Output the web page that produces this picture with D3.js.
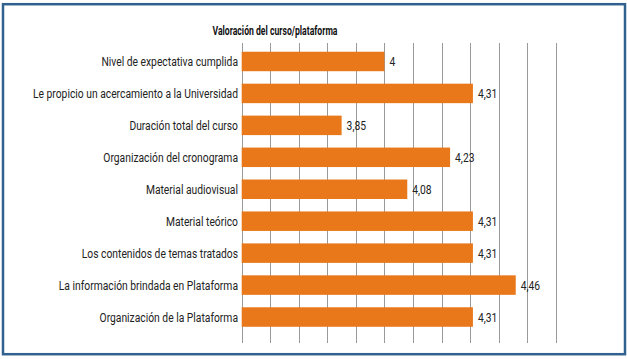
<!DOCTYPE html>
<html>
<head>
<meta charset="utf-8">
<script src="https://cdn.jsdelivr.net/npm/d3@7"></script>
<style>
  body { margin: 0; background: #fff; }
  svg text { font-family: Roboto, "Noto Sans", sans-serif; }
</style>
</head>
<body>
<div id="chart"></div>
<script>
// Categories (top to bottom) and their values
const categories = [
    "Nivel de expectativa cumplida",
    "Le propicio un acercamiento a la Universidad",
    "Duración total del curso",
    "Organización del cronograma",
    "Material audiovisual",
    "Material teórico",
    "Los contenidos de temas tratados",
    "La información brindada en Plataforma",
    "Organización de la Plataforma"
];
const values = [4, 4.31, 3.85, 4.23, 4.08, 4.31, 4.31, 4.46, 4.31];
const valueLabels = ["4", "4,31", "3,85", "4,23", "4,08", "4,31", "4,31", "4,46", "4,31"];
const gridTicks = [3.5, 3.6, 3.7, 3.8, 3.9, 4.0, 4.1, 4.2, 4.3, 4.4, 4.5, 4.6];

const width = 627, height = 359;

const svg = d3.select("#chart")
    .append("svg")
    .attr("width", width)
    .attr("height", height);

// condensed look: squeeze glyphs horizontally
function condense(sel, factor) {
    sel.each(function() {
        const w = this.getComputedTextLength();
        d3.select(this)
            .attr("textLength", w * factor)
            .attr("lengthAdjust", "spacingAndGlyphs");
    });
}

// frame
svg.append("rect")
    .attr("x", 3)
    .attr("y", 4.2)
    .attr("width", 622)
    .attr("height", 350)
    .attr("fill", "#fff")
    .attr("stroke", "#31618f")
    .attr("stroke-width", 2.5);

const x = d3.scaleLinear()
    .domain([3.5, 4.6])
    .range([241.7, 555.7]);

const y = d3.scaleBand()
    .domain(categories)
    .range([45.5, 333])
    .paddingInner(0.39)
    .paddingOuter(0.195);

// vertical gridlines
svg.append("g")
    .selectAll("line")
    .data(gridTicks)
    .enter().append("line")
    .attr("x1", d => Math.round(x(d)) + 0.5)
    .attr("x2", d => Math.round(x(d)) + 0.5)
    .attr("y1", 43)
    .attr("y2", 343)
    .attr("stroke", "#9a9a9a")
    .attr("stroke-width", 1);

// bars
svg.append("g")
    .selectAll("rect")
    .data(values)
    .enter().append("rect")
    .attr("x", x(3.5))
    .attr("y", (d, i) => y(categories[i]))
    .attr("width", d => x(d) - x(3.5))
    .attr("height", y.bandwidth())
    .attr("fill", "#e8781a");

// value labels
const vals = svg.append("g")
    .selectAll("text")
    .data(values)
    .enter().append("text")
    .attr("x", d => x(d) + 5)
    .attr("y", (d, i) => y(categories[i]) + y.bandwidth() / 2 + 4.5)
    .attr("font-size", "12.5px")
    .attr("fill", "#222")
    .text((d, i) => valueLabels[i]);

// category labels
const labels = svg.append("g")
    .selectAll("text")
    .data(categories)
    .enter().append("text")
    .attr("x", 238)
    .attr("y", d => y(d) + y.bandwidth() / 2 + 4.5)
    .attr("text-anchor", "end")
    .attr("font-size", "12.5px")
    .attr("fill", "#222")
    .text(d => d);

// scale so the longest label spans ~205px like the reference
let longest = 0;
labels.each(function() { longest = Math.max(longest, this.getComputedTextLength()); });
const factor = 205 / longest;
condense(labels, factor);
condense(vals, factor);

// title
const title = svg.append("text")
    .attr("x", 275)
    .attr("y", 35)
    .attr("text-anchor", "middle")
    .attr("font-size", "12.5px")
    .attr("font-weight", "bold")
    .attr("fill", "#111")
    .text("Valoración del curso/plataforma");
const tw = title.node().getComputedTextLength();
title.attr("textLength", 125).attr("lengthAdjust", "spacingAndGlyphs");
</script>
</body>
</html>
